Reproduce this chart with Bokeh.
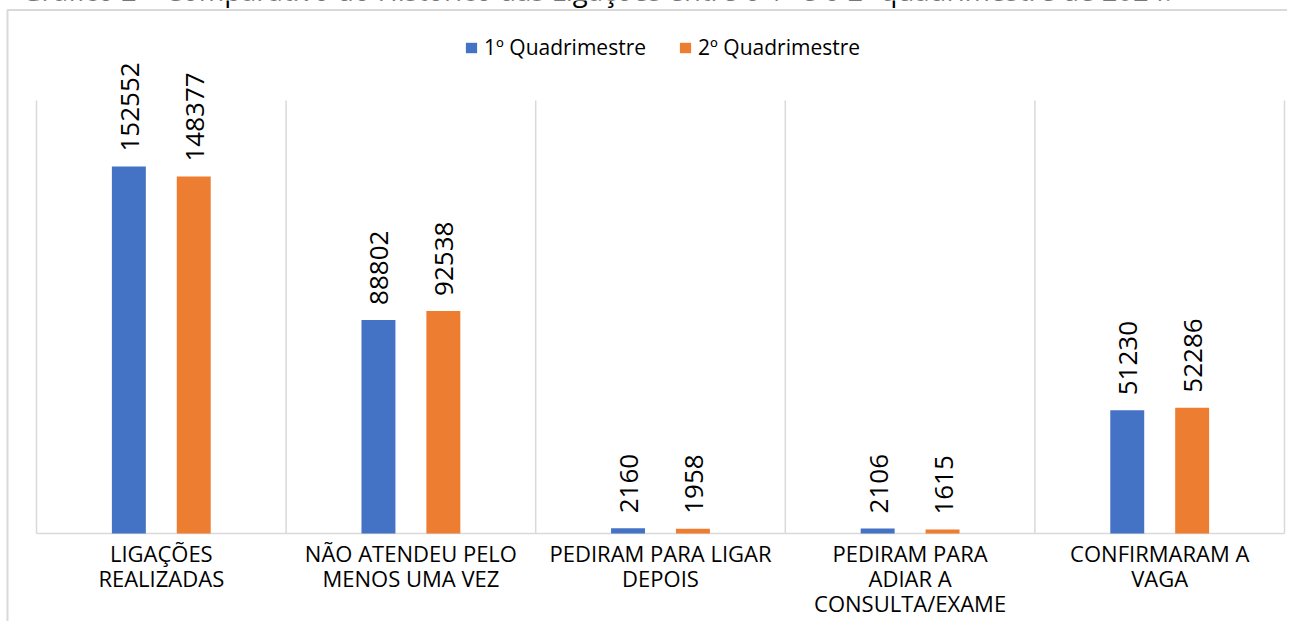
import math
from bokeh.plotting import figure
from bokeh.models import Range1d, Legend, LegendItem
from bokeh.core.properties import value
from bokeh.embed import file_html
from bokeh.resources import INLINE

# ---------------- data ----------------
title_text = "Gráfico 2 – Comparativo do Histórico das Ligações entre o 1º e o 2º quadrimestre de 2024."
categories = [
    "LIGAÇÕES\nREALIZADAS",
    "NÃO ATENDEU PELO\nMENOS UMA VEZ",
    "PEDIRAM PARA LIGAR\nDEPOIS",
    "PEDIRAM PARA\nADIAR A\nCONSULTA/EXAME",
    "CONFIRMARAM A\nVAGA",
]
series_names = ["1º Quadrimestre", "2º Quadrimestre"]
q1_values = [152552, 88802, 2160, 2106, 51230]
q2_values = [148377, 92538, 1958, 1615, 52286]
y_axis_max = 180000

# ---------------- layout / style (canvas pixels) ----------------
W, H = 1287, 621
PL, PR, PT, PB = 36, 1284, 100, 533   # plot area
BORDER_X, BORDER_Y = 7, 9.5           # chart-area border
BLUE, ORANGE = "#4472C4", "#ED7D31"
GRID = "#d9d9d9"
FONT = "Open Sans"
BAR_W = 0.136
BAR_OFF = 0.13

n = len(categories)
cat_px = (PR - PL) / n
px_per_val = (PB - PT) / y_axis_max
x_start = -PL / cat_px
y_end = y_axis_max + PT / px_per_val

def X(px):
    return x_start + px / cat_px

def Y(py):
    return y_end - py / px_per_val

x_range = Range1d(x_start, X(W))
y_range = Range1d(Y(H), y_end)

p = figure(width=W, height=H, x_range=x_range, y_range=y_range,
           x_axis_type=None, y_axis_type=None, min_border=0,
           toolbar_location=None, output_backend="svg", title=None,
           outline_line_color=None, background_fill_color="white",
           border_fill_color="white")

# chart-area border (left and top)
p.line(x=[X(BORDER_X), X(BORDER_X), X(W + 20)],
       y=[Y(H + 20), Y(BORDER_Y), Y(BORDER_Y)],
       line_color=GRID, line_width=2)

# caption above the chart, clipped by the top edge as in the source
p.text(x=[X(21)], y=[Y(-10)], text=[title_text], text_align="left",
       text_baseline="alphabetic", text_font=value(FONT), text_font_size="27.5px",
       text_color="#000000")

centers = [i + 0.5 for i in range(n)]
bounds = list(range(n + 1))

# category separators and baseline
p.segment(x0=bounds, y0=[0] * len(bounds), x1=bounds, y1=[y_axis_max] * len(bounds),
          line_color=GRID, line_width=1.5)
p.segment(x0=[0], y0=[0], x1=[n], y1=[0], line_color=GRID, line_width=1.5)

x1 = [c - BAR_OFF for c in centers]
x2 = [c + BAR_OFF for c in centers]
r1 = p.vbar(x=x1, top=q1_values, width=BAR_W, bottom=0, fill_color=BLUE, line_color=None)
r2 = p.vbar(x=x2, top=q2_values, width=BAR_W, bottom=0, fill_color=ORANGE, line_color=None)

# data labels
for xs, vals in ((x1, q1_values), (x2, q2_values)):
    p.text(x=xs, y=vals, text=[str(v) for v in vals], angle=math.pi / 2,
           text_align="left", text_baseline="middle", x_offset=1, y_offset=-15,
           text_font=value(FONT), text_font_size="26px", text_color="#000000")

# category labels
p.text(x=centers, y=[0] * n, text=categories, text_align="center", text_baseline="top",
       y_offset=4, text_font=value(FONT), text_font_size="22px",
       text_line_height=0.84, text_color="#000000")

legend = Legend(items=[LegendItem(label=series_names[0], renderers=[r1]),
                       LegendItem(label=series_names[1], renderers=[r2])],
                orientation="horizontal", location=(464, H - 61),
                glyph_width=14, glyph_height=13, label_standoff=6, spacing=32,
                padding=0, margin=0, border_line_color=None, background_fill_alpha=0,
                label_text_font=FONT, label_text_font_size="21px",
                label_text_color="#000000", label_height=20)
p.add_layout(legend, "center")

open("out.html", "w").write(file_html(p, INLINE))
